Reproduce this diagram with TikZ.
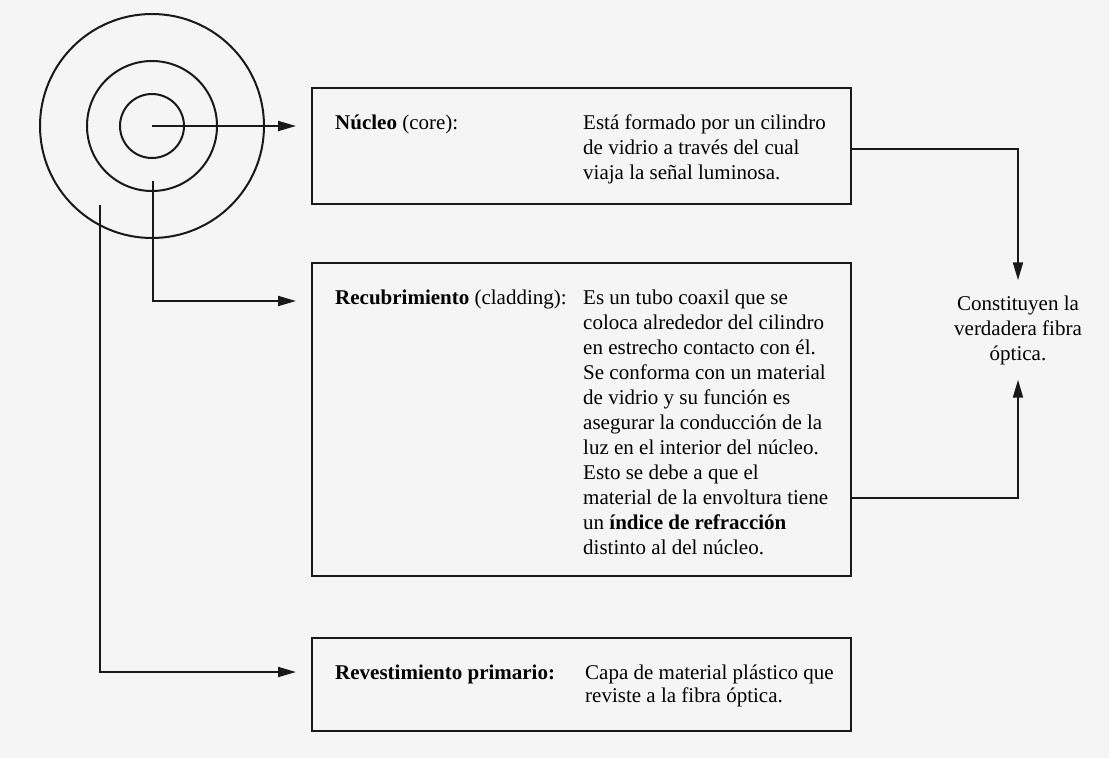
\documentclass[tikz,border=0pt]{standalone}
\usepackage{fontspec}
\setmainfont{Liberation Serif}
\usetikzlibrary{arrows.meta}
\newcommand\myfont{\fontsize{21}{25}\selectfont}
\newcommand\myfontb{\fontsize{21}{23}\selectfont}
\tikzset{
  ln/.style={line width=2pt, draw=black!90},
  arr/.style={ln, -{Triangle[length=18pt,width=10pt]}},
  ring/.style={circle, ln, inner sep=0pt},
  infobox/.style={rectangle, ln, inner sep=0pt, minimum width=539pt},
  txt/.style={inner sep=0pt, anchor=base west, font=\myfont},
}
\begin{document}
\begin{tikzpicture}[x=1pt,y=-1pt]
\fill[black!4] (0,0) rectangle (1109,758);
\useasboundingbox (0,0) rectangle (1109,758);

% concentric circles
\node[ring, minimum size=224pt] (outer) at (152,126) {};
\node[ring, minimum size=130pt] (mid) at (152,126) {};
\node[ring, minimum size=64pt] (inner) at (152,126) {};
\coordinate (p2) at (153,181);
\coordinate (p3) at (100,205);

% boxes
\node[infobox, minimum height=116pt] (b1) at (581.5,146) {};
\node[infobox, minimum height=313pt] (b2) at (581.5,419.5) {};
\node[infobox, minimum height=93pt] (b3) at (581.5,684.5) {};

% box texts
\node[txt] (t1) at (335,129) {\begin{tabular}[t]{@{}p{248pt}@{}l@{}}
\textbf{Núcleo} (core): & Está formado por un cilindro\\
 & de vidrio a través del cual\\
 & viaja la señal luminosa.
\end{tabular}};

\node[txt] (t2) at (335,304) {\begin{tabular}[t]{@{}p{248pt}@{}l@{}}
\textbf{Recubrimiento} (cladding): & Es un tubo coaxil que se\\
 & coloca alrededor del cilindro\\
 & en estrecho contacto con él.\\
 & Se conforma con un material\\
 & de vidrio y su función es\\
 & asegurar la conducción de la\\
 & luz en el interior del núcleo.\\
 & Esto se debe a que el\\
 & material de la envoltura tiene\\
 & un \textbf{índice de refracción}\\
 & distinto al del núcleo.
\end{tabular}};

\node[txt, font=\myfontb] (t3) at (335,679) {\begin{tabular}[t]{@{}p{250pt}@{}l@{}}
\textbf{Revestimiento primario:} & Capa de material plástico que\\
 & reviste a la fibra óptica.
\end{tabular}};

% result text
\node[font=\myfont, align=center, inner sep=15pt] (fo) at (1018,330)
  {Constituyen la\\verdadera fibra\\óptica.};

% connectors
\draw[arr, shorten >=15pt] (inner.center) -- (inner.center -| b1.west);
\draw[arr, shorten >=15pt] (p2) |- ([yshift=118.5pt]b2.west);
\draw[arr, shorten >=15pt] (p3) |- ([yshift=12.5pt]b3.west);
\draw[arr] ([yshift=-3pt]b1.east) -| (fo.north);
\draw[arr] ([yshift=-78.5pt]b2.east) -| (fo.south);
\end{tikzpicture}
\end{document}
